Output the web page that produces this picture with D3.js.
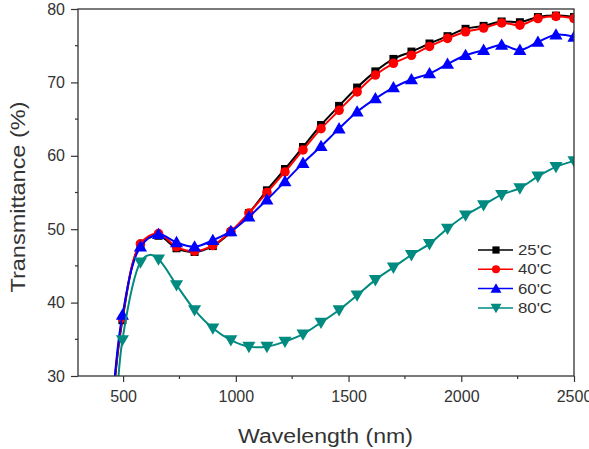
<!DOCTYPE html>
<html><head><meta charset="utf-8">
<script src="https://cdn.jsdelivr.net/npm/d3@7/dist/d3.min.js"></script>
<style>body{margin:0;background:#fff}svg{display:block}text{font-family:"Liberation Sans",Arial,sans-serif}</style>
</head><body><svg id="c" width="589" height="449"></svg>
<script>
const wavelengths = [497,577,657,737,817,898,978,1058,1138,1218,1298,1378,1458,1538,1619,1699,1779,1859,1939,2019,2099,2179,2260,2340,2420,2500];
const t25 = [37.6,47.8,49.1,47.4,46.9,47.7,49.6,52.2,55.3,58.2,61.2,64.2,66.8,69.3,71.5,73.2,74.2,75.3,76.3,77.3,77.7,78.3,78.2,78.9,79.1,78.9];
const t40 = [37.9,48.0,49.4,47.6,47.0,47.8,49.7,52.2,55.0,57.8,60.8,63.7,66.2,68.7,71.0,72.6,73.7,74.9,76.0,76.9,77.4,78.1,77.8,78.7,79.0,78.7];
const t60 = [38.3,47.6,49.3,48.2,47.6,48.5,49.7,51.7,54.0,56.5,59.0,61.3,63.7,66.0,67.8,69.3,70.4,71.2,72.5,73.7,74.4,75.1,74.4,75.5,76.5,76.2];
const t80 = [34.9,45.5,45.9,42.4,39.0,36.5,34.9,34.0,34.0,34.7,35.7,37.3,39.0,41.0,43.1,44.8,46.5,48.0,50.1,51.9,53.3,54.7,55.6,57.2,58.5,59.3];
// extra line-only points (curve start below axis, peak between markers)
const extra25 = [[458,27.5]];
const extra40 = [[458,27.8]];
const extra60 = [[458,28.0]];
const extra80 = [[472,26.0],[617,46.5]];
const seriesNames = ["25'C","40'C","60'C","80'C"];
const xTicks = [500,1000,1500,2000,2500];
const yTicks = [30,40,50,60,70,80];
const xMinor = [750,1250,1750,2250];
const yMinor = [35,45,55,65,75];

const series = [
  {name:seriesNames[0], vals:t25, extra:extra25, color:"#000000", sym:d3.symbolSquare, rot:0, size:64, dy:0},
  {name:seriesNames[1], vals:t40, extra:extra40, color:"#ff0000", sym:d3.symbolCircle, rot:0, size:72, dy:0},
  {name:seriesNames[2], vals:t60, extra:extra60, color:"#0000ff", sym:d3.symbolTriangle, rot:0, size:74, dy:1},
  {name:seriesNames[3], vals:t80, extra:extra80, color:"#008a80", sym:d3.symbolTriangle, rot:180, size:74, dy:-1}
];

const svg = d3.select("#c");
const L=78, R=574, T=9, B=376;
const x = d3.scaleLinear().domain([300,2500]).range([L,R]);
const y = d3.scaleLinear().domain([30,80]).range([B,T]);
const axisColor = "#333";

svg.append("defs").append("clipPath").attr("id","clip")
  .append("rect").attr("x",L).attr("y",T).attr("width",R-L).attr("height",B-T);

const gp = svg.append("g").attr("clip-path","url(#clip)");
const line = d3.line().x(d=>x(d[0])).y(d=>y(d[1])).curve(d3.curveCatmullRom.alpha(0.5));

series.forEach(s=>{
  const pts = wavelengths.map((w,j)=>[w,s.vals[j]]).concat(s.extra).sort((a,b)=>a[0]-b[0]);
  gp.append("path").attr("d",line(pts)).attr("fill","none").attr("stroke",s.color).attr("stroke-width",2);
  gp.selectAll(null).data(wavelengths.map((w,j)=>[w,s.vals[j]])).enter().append("path")
    .attr("d", d3.symbol().type(s.sym).size(s.size)())
    .attr("transform", d=>`translate(${x(d[0])},${y(d[1]) + s.dy}) rotate(${s.rot})`)
    .attr("fill", s.color);
});

// frame
svg.append("rect").attr("x",L).attr("y",T).attr("width",R-L).attr("height",B-T)
  .attr("fill","none").attr("stroke",axisColor).attr("stroke-width",1.3);

// axes
const xAxis = svg.append("g").attr("transform",`translate(0,${B})`)
  .call(d3.axisBottom(x).tickValues(xTicks).tickSize(6).tickPadding(9).tickFormat(d3.format("d")));
const yAxis = svg.append("g").attr("transform",`translate(${L},0)`)
  .call(d3.axisLeft(y).tickValues(yTicks).tickSize(7).tickPadding(6).tickFormat(d3.format("d")));
[xAxis,yAxis].forEach(a=>{
  a.select(".domain").remove();
  a.selectAll(".tick line").attr("stroke",axisColor).attr("stroke-width",1.2);
  a.selectAll(".tick text").attr("fill","#333").style("font-size","16px");
});
// minor ticks
svg.append("g").selectAll("line").data(xMinor).enter().append("line")
  .attr("x1",d=>x(d)).attr("x2",d=>x(d)).attr("y1",B).attr("y2",B+3)
  .attr("stroke",axisColor).attr("stroke-width",1.2);
svg.append("g").selectAll("line").data(yMinor).enter().append("line")
  .attr("y1",d=>y(d)).attr("y2",d=>y(d)).attr("x1",L).attr("x2",L-3)
  .attr("stroke",axisColor).attr("stroke-width",1.2);

// titles
svg.append("text").attr("x",325.5).attr("y",443).attr("text-anchor","middle")
  .attr("textLength",175).attr("lengthAdjust","spacingAndGlyphs")
  .attr("fill","#333").style("font-size","20px").text("Wavelength (nm)");
svg.append("text").attr("transform","translate(25,197) rotate(-90)").attr("text-anchor","middle")
  .attr("textLength",191).attr("lengthAdjust","spacingAndGlyphs")
  .attr("fill","#333").style("font-size","20px").text("Transmittance (%)");

// legend
const lg = svg.append("g");
series.forEach((s,i)=>{
  const yy = 250 + i*19.3;
  lg.append("line").attr("x1",478).attr("x2",513).attr("y1",yy).attr("y2",yy)
    .attr("stroke",s.color).attr("stroke-width",1.5);
  lg.append("path").attr("d",d3.symbol().type(s.sym).size(52)())
    .attr("transform",`translate(496,${yy + s.dy}) rotate(${s.rot})`).attr("fill",s.color);
  lg.append("text").attr("x",518).attr("y",yy+5).attr("fill","#333")
    .attr("textLength",34).attr("lengthAdjust","spacingAndGlyphs")
    .style("font-size","14px").text(s.name);
});
</script></body></html>
